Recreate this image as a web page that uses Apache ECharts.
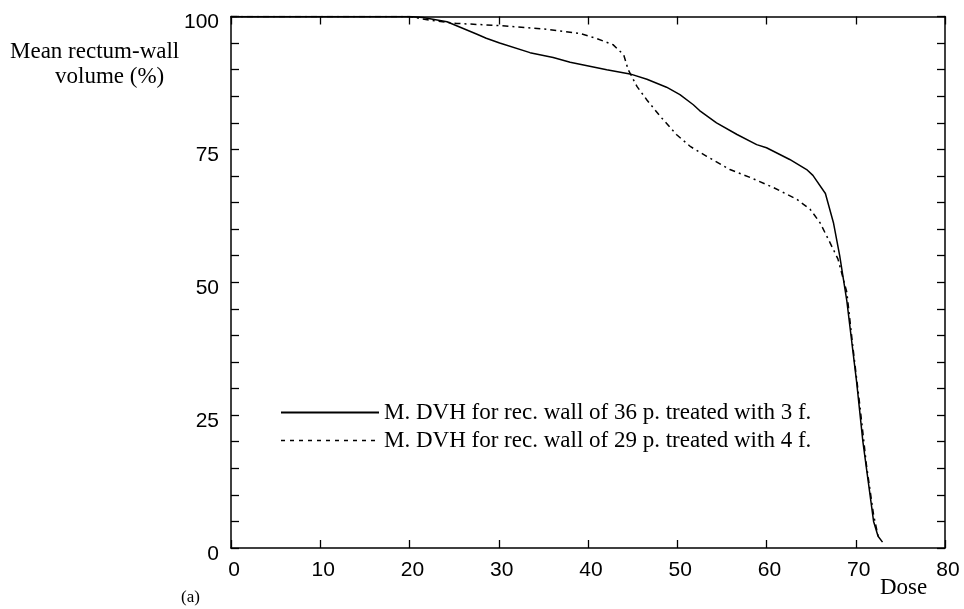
<!DOCTYPE html>
<html>
<head>
<meta charset="utf-8">
<script src="https://cdn.jsdelivr.net/npm/echarts@6/dist/echarts.min.js"></script>
<style>
  html, body { margin: 0; padding: 0; background: #fff; }
  #main { width: 964px; height: 609px; }
</style>
</head>
<body>
<div id="main"></div>
<script>
// mean DVH, 36 patients, 3 fields
var dose3f = [0, 20, 21.5, 24.2, 27.5, 28.6, 30.1, 33.5, 36.1, 38.0, 42.1, 44.7, 46.6, 48.8, 50.3, 51.8, 52.5, 54.4, 56.7, 58.9, 60.0, 62.6, 64.5, 65.2, 66.6, 67.5, 68.2, 69.0, 70.1, 70.8, 71.4, 72.0, 72.5, 73.0];
var vol3f = [100, 100, 99.8, 99.0, 96.7, 95.9, 95.0, 93.2, 92.3, 91.4, 90.0, 89.2, 88.2, 86.7, 85.3, 83.4, 82.3, 80.0, 77.8, 75.9, 75.3, 73.1, 71.2, 70.1, 66.7, 61.2, 55.0, 46.5, 31.2, 20.0, 12.5, 5.0, 2.2, 1.1];
// mean DVH, 29 patients, 4 fields
var dose4f = [0, 20, 22.3, 25.3, 30.1, 35.4, 39.1, 40.9, 42.8, 44.0, 44.5, 45.5, 46.6, 48.1, 49.9, 51.5, 53.3, 55.9, 58.2, 60.8, 63.4, 64.9, 66.0, 67.1, 68.0, 69.0, 69.7, 70.5, 71.2, 72.0, 72.6];
var vol4f = [100, 100, 99.3, 98.7, 98.3, 97.6, 96.8, 95.9, 94.7, 92.8, 90.0, 86.8, 84.3, 81.2, 77.8, 75.5, 73.7, 71.2, 69.7, 67.8, 65.6, 63.7, 61.2, 57.5, 54.4, 48.1, 37.5, 26.2, 15.6, 6.2, 1.5];

var seriesNames = ['M. DVH for rec. wall of 36 p. treated with 3 f.', 'M. DVH for rec. wall of 29 p. treated with 4 f.'];
var yLabels = [0, 25, 50, 75, 100];

function pairs(xs, ys) {
    var out = [];
    for (var i = 0; i < xs.length; i++) {
        out.push([xs[i], ys[i]]);
    }
    return out;
}

var chart = echarts.init(document.getElementById('main'));

var sans = 'Liberation Sans';
var serif = 'Liberation Serif';
var axisLine = { show: true, onZero: false, lineStyle: { color: '#000', width: 1.5 } };
var tick = { show: true, inside: true, length: 8, lineStyle: { color: '#000', width: 1.3 } };

var option = {
    animation: false,
    backgroundColor: '#fff',
    grid: { left: 231, right: 19, top: 16.5, bottom: 61, containLabel: false },
    xAxis: [{
        type: 'value', position: 'bottom', min: 0, max: 80, interval: 10,
        axisLine: axisLine, axisTick: tick, splitLine: { show: false },
        axisLabel: {
            margin: 12,
            formatter: function (v) { return '{a|' + v + '}'; },
            rich: { a: { color: '#000', fontFamily: sans, fontSize: 21, padding: [0, 0, 0, 6] } }
        }
    }, {
        type: 'value', position: 'top', min: 0, max: 80, interval: 10,
        axisLine: axisLine, axisTick: tick, splitLine: { show: false },
        axisLabel: { show: false }
    }],
    yAxis: [{
        type: 'value', position: 'left', min: 0, max: 100, interval: 5,
        axisLine: axisLine, axisTick: tick, splitLine: { show: false },
        axisLabel: {
            margin: 12,
            formatter: function (v) { return yLabels.indexOf(v) >= 0 ? '{a|' + v + '}' : ''; },
            rich: { a: { color: '#000', fontFamily: sans, fontSize: 21, padding: [12, 0, 0, 0] } }
        }
    }, {
        type: 'value', position: 'right', min: 0, max: 100, interval: 5,
        axisLine: axisLine, axisTick: tick, splitLine: { show: false },
        axisLabel: { show: false }
    }],
    legend: {
        orient: 'vertical', left: 275, top: 396,
        itemWidth: 98, itemHeight: 14, itemGap: 5,
        itemStyle: { opacity: 0 },
        textStyle: { color: '#000', fontFamily: serif, fontSize: 23 },
        data: [
            { name: seriesNames[0] },
            { name: seriesNames[1], lineStyle: { type: [4, 5], width: 1.3 } }
        ]
    },
    graphic: [
        { type: 'text', left: 10, top: 40, style: { text: 'Mean rectum-wall', font: '23px "Liberation Serif"', fill: '#000' } },
        { type: 'text', left: 55, top: 65, style: { text: 'volume (%)', font: '23px "Liberation Serif"', fill: '#000' } },
        { type: 'text', left: 880, top: 576, style: { text: 'Dose', font: '23px "Liberation Serif"', fill: '#000' } },
        { type: 'text', left: 181, top: 589, style: { text: '(a)', font: '17px "Liberation Serif"', fill: '#000' } }
    ],
    series: [{
        name: seriesNames[0], type: 'line', symbol: 'none', xAxisIndex: 0, yAxisIndex: 0,
        itemStyle: { color: '#000' },
        lineStyle: { color: '#000', width: 1.5, type: 'solid' },
        data: pairs(dose3f, vol3f)
    }, {
        name: seriesNames[1], type: 'line', symbol: 'none', xAxisIndex: 0, yAxisIndex: 0,
        itemStyle: { color: '#000' },
        lineStyle: { color: '#000', width: 1.5, type: [6, 4, 2, 4] },
        data: pairs(dose4f, vol4f)
    }]
};

chart.setOption(option);
</script>
</body>
</html>
